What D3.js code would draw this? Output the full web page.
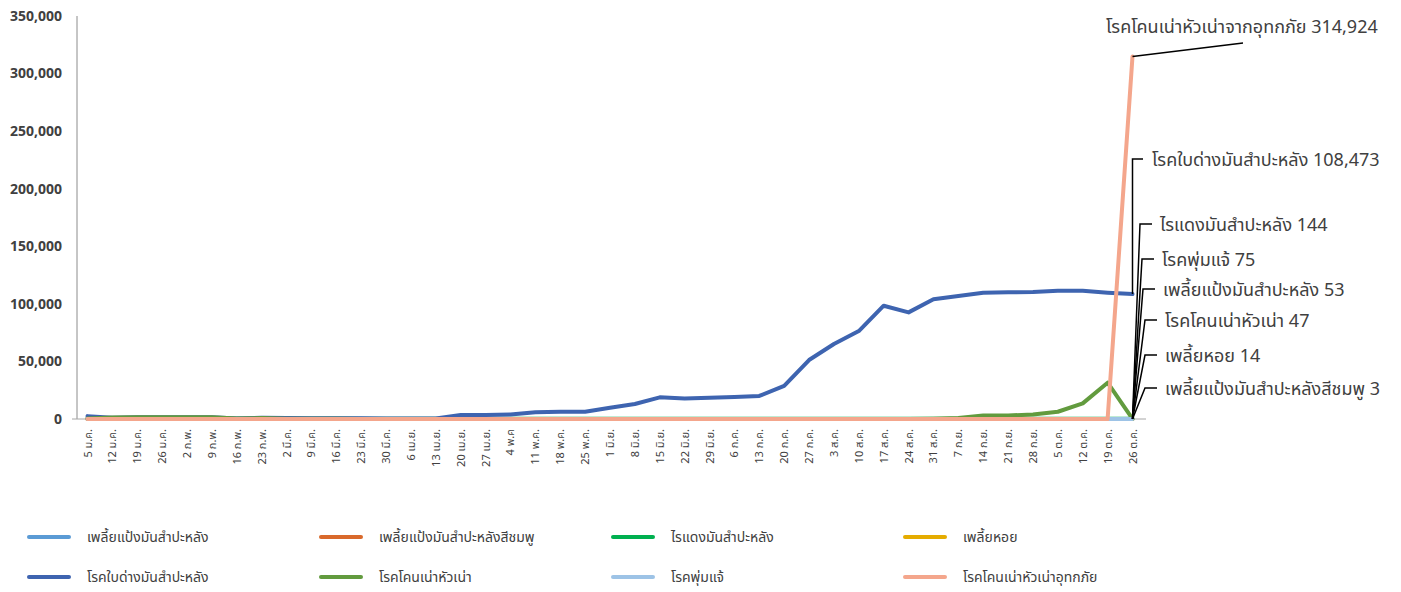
<!DOCTYPE html>
<html>
<head>
<meta charset="utf-8">
<script src="https://cdn.jsdelivr.net/npm/d3@7"></script>
<style>
  body { margin: 0; background: #fff; }
  text { font-family: Tahoma, "Leelawadee UI", "Noto Sans Thai", "Noto Sans", sans-serif; }
</style>
</head>
<body>
<div id="chart"></div>
<script>
// week labels (x axis)
const weeks = ["5 ม.ค.", "12 ม.ค.", "19 ม.ค.", "26 ม.ค.", "2 ก.พ.", "9 ก.พ.", "16 ก.พ.", "23 ก.พ.",
  "2 มี.ค.", "9 มี.ค.", "16 มี.ค.", "23 มี.ค.", "30 มี.ค.", "6 เม.ย.", "13 เม.ย.", "20 เม.ย.", "27 เม.ย.",
  "4 พ.ค", "11 พ.ค.", "18 พ.ค.", "25 พ.ค.", "1 มิ.ย.", "8 มิ.ย.", "15 มิ.ย.", "22 มิ.ย.", "29 มิ.ย.",
  "6 ก.ค.", "13 ก.ค.", "20 ก.ค.", "27 ก.ค.", "3 ส.ค.", "10 ส.ค.", "17 ส.ค.", "24 ส.ค.", "31 ส.ค.",
  "7 ก.ย.", "14 ก.ย.", "21 ก.ย.", "28 ก.ย.", "5 ต.ค.", "12 ต.ค.", "19 ต.ค.", "26 ต.ค."];

const seriesNames = ["เพลี้ยแป้งมันสำปะหลัง", "เพลี้ยแป้งมันสำปะหลังสีชมพู", "ไรแดงมันสำปะหลัง", "เพลี้ยหอย",
  "โรคใบด่างมันสำปะหลัง", "โรคโคนเน่าหัวเน่า", "โรคพุ่มแจ้", "โรคโคนเน่าหัวเน่าอุทกภัย"];
const colors = ["#5b9bd5", "#d9692b", "#00b050", "#e5ac00", "#3e64b0", "#629b3e", "#9dc3e6", "#f4a68c"];

const mealybug = [300, 250, 250, 200, 200, 200, 150, 150, 150, 120, 120, 100, 100, 100, 100, 100, 100,
  100, 100, 100, 100, 100, 100, 100, 100, 100, 100, 100, 100, 100, 100, 100, 100, 100, 100,
  100, 100, 100, 90, 80, 70, 60, 53];
const pinkMealybug = [50, 50, 50, 40, 40, 40, 30, 30, 30, 30, 20, 20, 20, 20, 20, 20, 20,
  20, 20, 20, 20, 20, 20, 20, 20, 20, 20, 20, 20, 20, 20, 20, 20, 20, 20,
  10, 10, 10, 10, 10, 5, 5, 3];
const redMite = [200, 200, 200, 200, 200, 200, 150, 150, 150, 150, 150, 150, 150, 150, 150, 150, 150,
  150, 150, 150, 150, 150, 150, 150, 150, 150, 150, 150, 150, 150, 150, 150, 150, 150, 150,
  150, 150, 150, 150, 150, 150, 150, 144];
const scaleInsect = [30, 30, 30, 30, 30, 30, 20, 20, 20, 20, 20, 20, 20, 20, 20, 20, 20,
  20, 20, 20, 20, 20, 20, 20, 20, 20, 20, 20, 20, 20, 20, 20, 20, 20, 20,
  20, 20, 20, 20, 20, 15, 15, 14];
const mosaic = [2500, 1000, 1500, 1500, 1500, 1500, 500, 1000, 800, 700, 700, 600, 500, 400, 400, 3500, 3500,
  4000, 5800, 6300, 6300, 9800, 13000, 18800, 17700, 18500, 19100, 20000, 28700, 51200, 65100, 76400, 98400, 92600, 104000,
  106800, 109700, 110000, 110300, 111400, 111400, 109700, 108473];
const rootRot = [500, 1200, 1500, 1500, 1500, 1500, 500, 800, 200, 150, 150, 100, 100, 100, 100, 100, 100,
  100, 100, 100, 100, 100, 100, 100, 100, 100, 100, 100, 100, 100, 100, 100, 100, 100, 300,
  800, 3000, 3000, 4000, 6300, 13600, 31500, 47];
const witchesBroom = [0, 0, 0, 0, 0, 0, 0, 0, 0, 0, 0, 0, 0, 0, 0, 0, 0,
  0, 0, 0, 0, 0, 0, 0, 0, 0, 0, 0, 0, 0, 0, 0, 0, 0, 0,
  0, 0, 0, 0, 0, 0, 60, 75];
const floodRot = [0, 0, 0, 0, 0, 0, 0, 0, 0, 0, 0, 0, 0, 0, 0, 0, 0,
  0, 0, 0, 0, 0, 0, 0, 0, 0, 0, 0, 0, 0, 0, 0, 0, 0, 0,
  0, 0, 0, 0, 0, 0, 0, 314924];

const seriesValues = [mealybug, pinkMealybug, redMite, scaleInsect, mosaic, rootRot, witchesBroom, floodRot];
const yTicks = [0, 50000, 100000, 150000, 200000, 250000, 300000, 350000];

// last-point labels and where they sit
const labelNames = ["โรคโคนเน่าหัวเน่าจากอุทกภัย", "โรคใบด่างมันสำปะหลัง", "ไรแดงมันสำปะหลัง", "โรคพุ่มแจ้",
  "เพลี้ยแป้งมันสำปะหลัง", "โรคโคนเน่าหัวเน่า", "เพลี้ยหอย", "เพลี้ยแป้งมันสำปะหลังสีชมพู"];
const labelSeries = [7, 4, 2, 6, 0, 5, 3, 1];

const W = 1401, H = 592;
const svg = d3.select("#chart").append("svg").attr("width", W).attr("height", H);

const x = d3.scalePoint().domain(weeks).range([87.5, 1132.5]);
const y = d3.scaleLinear().domain([0, 350000]).range([419, 16]);

// axes
svg.append("line").attr("x1", 77).attr("x2", 77).attr("y1", y(350000)).attr("y2", y(0))
  .attr("stroke", "#8c8c8c").attr("stroke-width", 1);
svg.append("line").attr("x1", 72).attr("x2", 1146).attr("y1", y(0)).attr("y2", y(0))
  .attr("stroke", "#a6a6a6").attr("stroke-width", 1);

svg.selectAll(".ytick").data(yTicks).enter().append("text")
  .attr("x", 62).attr("y", d => y(d)).attr("dy", "0.35em")
  .attr("text-anchor", "end").attr("font-size", 14).attr("font-weight", "bold").attr("fill", "#404040")
  .text(d => d === 0 ? "0" : d3.format(",")(d));

svg.selectAll(".xtick").data(weeks).enter().append("text")
  .attr("transform", d => "translate(" + (x(d) + 4) + ",429) rotate(-90)")
  .attr("text-anchor", "end").attr("font-size", 11).attr("fill", "#404040")
  .text(d => d);

// lines
const line = d3.line().x((d, i) => x(weeks[i])).y(d => y(d));
seriesValues.forEach((vals, k) => {
  svg.append("path").datum(vals).attr("d", line)
    .attr("fill", "none").attr("stroke", colors[k]).attr("stroke-width", 4)
    .attr("stroke-linejoin", "round").attr("stroke-linecap", "round");
});

// labels with leader lines
const labelPos = [[1106, 27], [1152, 160], [1160, 225], [1162, 260], [1163, 290], [1165, 321], [1165, 356], [1165, 389]];
labelSeries.forEach((s, i) => {
  const v = seriesValues[s][weeks.length - 1];
  const px = x(weeks[weeks.length - 1]), py = y(v);
  const [lx, ly] = labelPos[i];
  let pts;
  if (i === 0) pts = [[px, py], [1243, 43]];
  else if (i === 1) pts = [[px, py], [px, ly - 1], [lx - 9, ly - 1]];
  else pts = [[px, py], [lx - 20, ly - 1], [lx - 8, ly - 1]];
  svg.append("path").attr("d", d3.line()(pts)).attr("fill", "none").attr("stroke", "#000").attr("stroke-width", 1.5);
  svg.append("text").attr("x", lx).attr("y", ly).attr("dy", "0.35em")
    .attr("font-size", 18).attr("fill", "#404040")
    .text(labelNames[i] + " " + d3.format(",")(v));
});

// legend
const legend = svg.selectAll(".legend").data(seriesNames).enter().append("g")
  .attr("transform", (d, i) => "translate(" + (29 + (i % 4) * 292) + "," + (537 + Math.floor(i / 4) * 40) + ")");
legend.append("line").attr("x1", 0).attr("x2", 40).attr("stroke", (d, i) => colors[i])
  .attr("stroke-width", 4).attr("stroke-linecap", "round");
legend.append("text").attr("x", 58).attr("dy", "0.35em").attr("font-size", 14).attr("fill", "#404040")
  .text(d => d);
</script>
</body>
</html>
